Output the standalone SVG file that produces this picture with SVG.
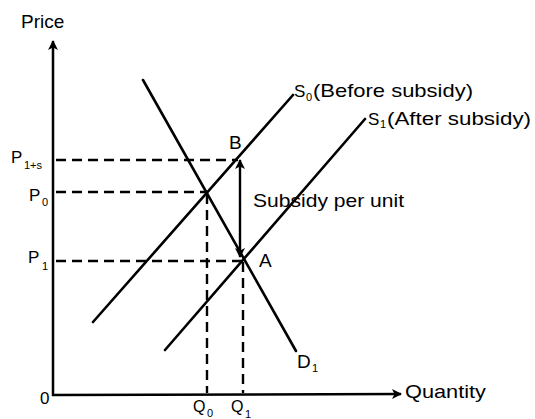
<svg xmlns="http://www.w3.org/2000/svg" width="535" height="419" viewBox="0 0 535 419">
<style>
text{font-family:"Liberation Sans",Arial,sans-serif;fill:#000}
.lbl{font-size:19px}
.pl{font-size:17px}
.sub{font-size:11px}
.ax{stroke:#000;stroke-width:2.5;fill:none}
.crv{stroke:#000;stroke-width:2.6;fill:none;stroke-linecap:round}
.dash{stroke:#000;stroke-width:2.4;fill:none;stroke-dasharray:10 6}
</style>
<defs>
<marker id="ah" viewBox="0 0 10 10" refX="9" refY="5" markerWidth="10" markerHeight="10" markerUnits="userSpaceOnUse" orient="auto-start-reverse">
<path d="M0,0 L10,5 L0,10 L2.5,5 Z" fill="#000"/>
</marker>
</defs>
<rect width="535" height="419" fill="#fff"/>
<g id="axes">
<line class="ax" x1="53" y1="396" x2="53" y2="41" marker-end="url(#ah)"/>
<line class="ax" x1="52" y1="395" x2="401" y2="394" marker-end="url(#ah)"/>
<text class="lbl" x="21" y="28">Price</text>
<text class="lbl" x="40" y="404" style="font-size:17px">0</text>
<text class="lbl" x="405" y="398" textLength="81" lengthAdjust="spacingAndGlyphs">Quantity</text>
</g>
<g id="connectors">
<line class="dash" x1="56" y1="160" x2="238" y2="160"/>
<line class="dash" x1="56" y1="192" x2="207" y2="192"/>
<line class="dash" x1="56" y1="261" x2="242" y2="261"/>
<line class="dash" x1="207" y1="194" x2="207" y2="393"/>
<line class="dash" x1="243" y1="262" x2="243" y2="393"/>
<line x1="240" y1="160" x2="240" y2="257" stroke="#000" stroke-width="2.4" marker-start="url(#ah)" marker-end="url(#ah)"/>
</g>
<g id="D1">
<line class="crv" x1="143" y1="80" x2="296" y2="351"/>
<text class="lbl" x="297" y="368">D</text>
<text class="sub" x="312" y="372">1</text>
</g>
<g id="S0">
<line class="crv" x1="93" y1="322" x2="293" y2="95"/>
<text class="pl" x="294" y="97">S</text>
<text class="sub" x="306" y="101">0</text>
<text class="lbl" x="313" y="97" textLength="160" lengthAdjust="spacingAndGlyphs">(Before subsidy)</text>
</g>
<g id="S1">
<line class="crv" x1="165" y1="350" x2="365" y2="119"/>
<text class="pl" x="368" y="125">S</text>
<text class="sub" x="380" y="128">1</text>
<text class="lbl" x="387" y="125" textLength="144" lengthAdjust="spacingAndGlyphs">(After subsidy)</text>
</g>
<g id="pointB"><text class="lbl" x="229" y="149">B</text></g>
<g id="pointA"><text class="lbl" x="259" y="267">A</text></g>
<g id="subsidy"><text class="lbl" x="253" y="207" textLength="151" lengthAdjust="spacingAndGlyphs">Subsidy per unit</text></g>
<g id="priceLabels">
<text class="pl" x="11" y="163">P</text>
<text class="sub" x="24" y="169">1+s</text>
<text class="pl" x="29" y="201">P</text>
<text class="sub" x="42" y="206">0</text>
<text class="pl" x="28" y="263">P</text>
<text class="sub" x="42" y="270">1</text>
</g>
<g id="qtyLabels">
<text class="pl" x="193" y="412" style="font-size:16px">Q</text>
<text class="sub" x="207" y="417">0</text>
<text class="pl" x="231" y="412" style="font-size:16px">Q</text>
<text class="sub" x="245" y="418">1</text>
</g>
</svg>
